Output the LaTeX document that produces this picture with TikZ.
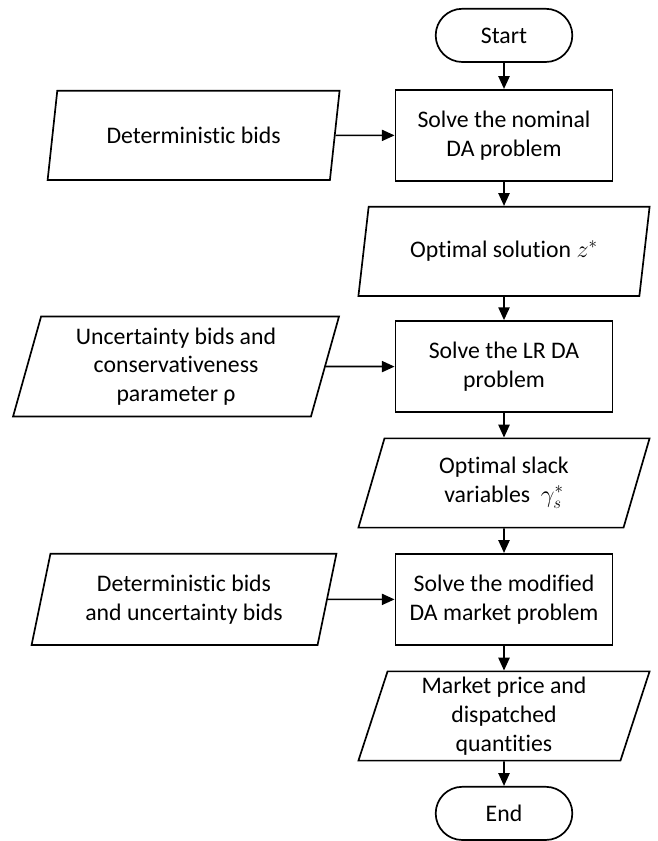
\documentclass[tikz,border=0pt]{standalone}
\usepackage{fontspec}
\setmainfont{Carlito}[Ligatures=NoCommon, RawFeature={-liga;-clig;-calt}]
\usetikzlibrary{shapes.geometric,shapes.misc,arrows.meta}

\newcommand{\flowLineWidth}{1.2pt}
\newcommand{\mainX}{12.6}
\newcommand{\detX}{4.84}
\newcommand{\uncX}{4.4}
\newcommand{\detUncX}{4.6}
\newcommand{\startY}{20.14}
\newcommand{\nominalY}{17.64}
\newcommand{\zStarY}{14.74}
\newcommand{\lrY}{11.86}
\newcommand{\slackY}{8.95}
\newcommand{\modifiedY}{6.04}
\newcommand{\marketY}{3.125}
\newcommand{\finishY}{0.69}

\tikzset{
  terminal/.style={rounded rectangle, draw, line width=\flowLineWidth,
    minimum width=3.65cm, minimum height=1.33cm},
  process/.style={rectangle, draw, line width=\flowLineWidth, align=center,
    minimum width=5.43cm, minimum height=2.28cm},
  iobox/.style={trapezium, trapezium left angle=76, trapezium right angle=104,
    trapezium stretches=true, draw, line width=\flowLineWidth, align=center,
    minimum width=7.28cm, minimum height=2.23cm},
  flow/.style={line width=\flowLineWidth, -{Triangle[length=3.2mm,width=2.8mm]}}
}

\begin{document}
\begin{tikzpicture}[font=\fontsize{16.9}{20.5}\selectfont]
        \useasboundingbox (0,0) rectangle (16.425,21.025);

        % Main column
        \node[terminal] (start) at (\mainX,\startY) {Start};
        \node[process] (nominal) at (\mainX,\nominalY) {Solve the nominal\\DA problem};
        \node[iobox] (zstar) at (\mainX,\zStarY) {Optimal solution $z^{*}$};
        \node[process] (lr) at (\mainX,\lrY) {Solve the LR DA\\problem};
        \node[iobox] (slack) at (\mainX,\slackY) {Optimal slack\\variables\ \ $\gamma_s^{*}$};
        \node[process] (modified) at (\mainX,\modifiedY) {Solve the modified\\DA market problem};
        \node[iobox] (market) at (\mainX,\marketY) {Market price and\\dispatched\\quantities};
        \node[terminal] (finish) at (\mainX,\finishY) {End};

        % Inputs
        \node[iobox, minimum width=7.3cm] (detbids) at (\detX,\nominalY) {Deterministic bids};
        \node[iobox, minimum width=8.15cm, minimum height=2.5cm] (uncbids) at (\uncX,\lrY) {Uncertainty bids and\\conservativeness\\parameter ρ};
        \node[iobox, minimum width=7.63cm, minimum height=2.28cm] (allbids) at (\detUncX,\modifiedY) {Deterministic bids\\and uncertainty bids};

        % Draw flow
        \draw[flow] (start) -- (nominal);
        \draw[flow] (nominal) -- (zstar);
        \draw[flow] (zstar) -- (lr);
        \draw[flow] (lr) -- (slack);
        \draw[flow] (slack) -- (modified);
        \draw[flow] (modified) -- (market);
        \draw[flow] (market) -- (finish);

        % Draw inputs
        \draw[flow] (detbids) -- (nominal);
        \draw[flow] (uncbids) -- (lr);
        \draw[flow] (allbids) -- (modified);
    \end{tikzpicture}
\end{document}
